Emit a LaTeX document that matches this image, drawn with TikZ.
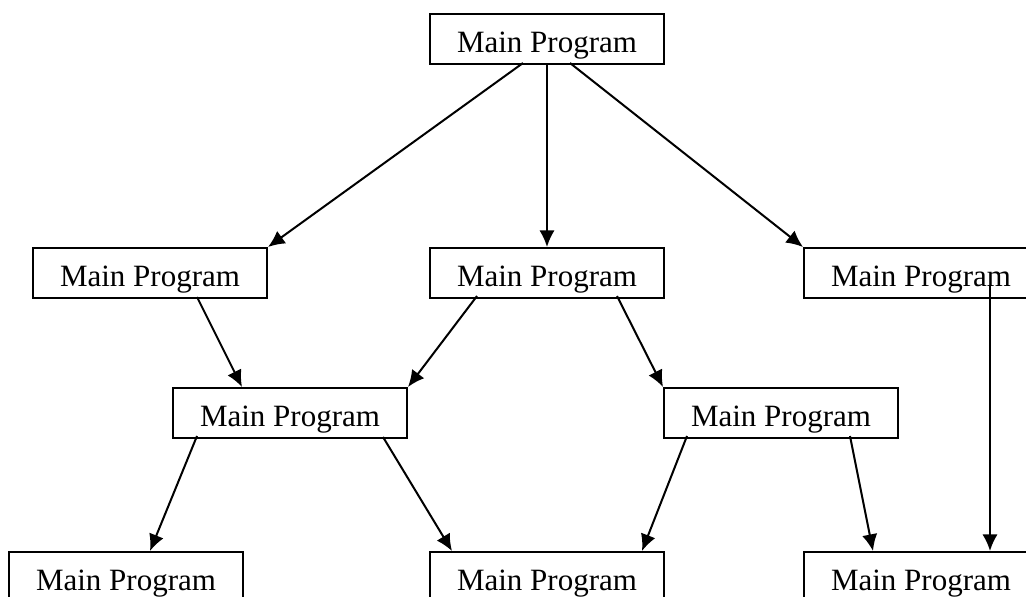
\documentclass[tikz,border=0pt]{standalone}
\usepackage{fontspec}
\setmainfont{Liberation Serif}
\usetikzlibrary{arrows.meta,calc}

\begin{document}
\begin{tikzpicture}[x=0.75pt,y=-0.75pt,
  prog/.style={draw=black, line width=1.5pt, rectangle, anchor=north west,
    minimum width=175.5pt, minimum height=37.5pt, inner sep=0pt,
    text height=28.5pt, text depth=9pt,
    font=\fontsize{23.25pt}{26pt}\selectfont},
  link/.style={draw=black, line width=1.5pt,
    -{Latex[length=12.5pt,width=11.5pt]}}]
  % canvas
  \fill[white] (0,0) rectangle (1026,597);
  \useasboundingbox (0,0) rectangle (1026,597);
  \clip (0,0) rectangle (1026,597);

  % boxes, top to bottom
  \node[prog] (top) at (429,13) {Main Program};

  \node[prog] (r2a) at (32,247)  {Main Program};
  \node[prog] (r2b) at (429,247) {Main Program};
  \node[prog] (r2c) at (803,247) {Main Program};

  \node[prog] (r3a) at (172,387) {Main Program};
  \node[prog] (r3b) at (663,387) {Main Program};

  \node[prog] (r4a) at (8,551)   {Main Program};
  \node[prog] (r4b) at (429,551) {Main Program};
  \node[prog] (r4c) at (803,551) {Main Program};

  % calls
  \draw[link] ($(top.south west)+(94,-2)$)  -- (r2a.north east);
  \draw[link] ($(top.south)+(0,-2)$)        -- (r2b.north);
  \draw[link] ($(top.south west)+(141,-2)$) -- (r2c.north west);

  \draw[link] ($(r2a.south west)+(165,-2)$) -- ($(r3a.north west)+(70,0)$);
  \draw[link] ($(r2b.south west)+(48,-3)$)  -- (r3a.north east);
  \draw[link] ($(r2b.south west)+(188,-3)$) -- (r3b.north west);
  \draw[link] ($(r2c.south west)+(187,-14)$) -- ($(r4c.north west)+(187,0)$);

  \draw[link] ($(r3a.south west)+(25,-3)$)  -- ($(r4a.north west)+(142,0)$);
  \draw[link] ($(r3a.south west)+(211,-2)$) -- ($(r4b.north west)+(23,0)$);
  \draw[link] ($(r3b.south west)+(24,-3)$)  -- ($(r4b.north west)+(213,0)$);
  \draw[link] ($(r3b.south west)+(187,-3)$) -- ($(r4c.north west)+(70,0)$);
\end{tikzpicture}
\end{document}
